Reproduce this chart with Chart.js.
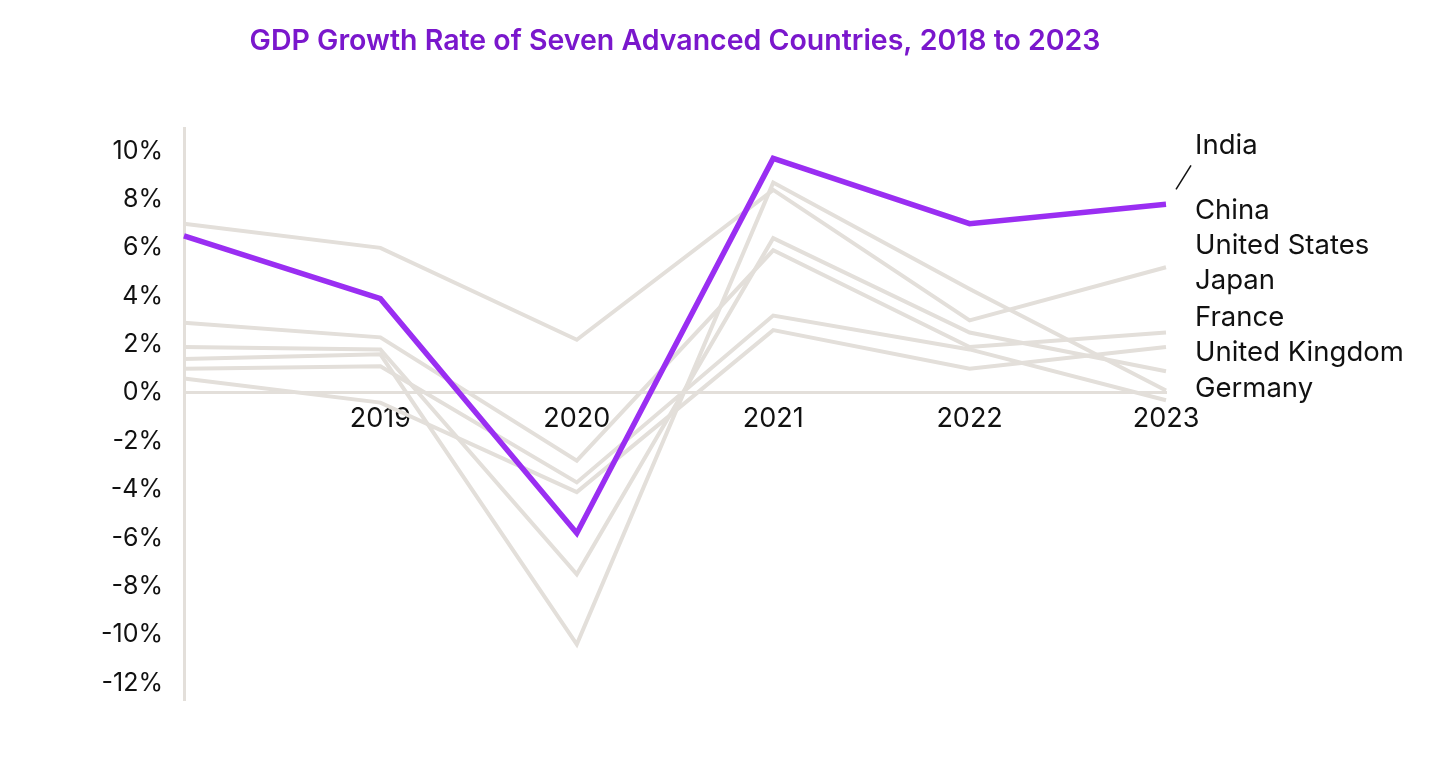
<!DOCTYPE html>
<html>
<head>
<meta charset="utf-8">
<title>GDP Growth Rate</title>
<script src="https://cdn.jsdelivr.net/npm/chart.js@4"></script>
<style>
	html, body { margin: 0; padding: 0; background: #fff; }
	#wrap { width: 1456px; height: 771px; }
</style>
</head>
<body>
<div id="wrap"><canvas id="lineChart" width="1456" height="771"></canvas></div>
<script>
// dados
var years = ['2018', '2019', '2020', '2021', '2022', '2023']
var india = [6.5, 3.9, -5.8, 9.7, 7.0, 7.8]
var china = [7.0, 6.0, 2.2, 8.4, 3.0, 5.2]
var unitedStates = [2.9, 2.3, -2.8, 5.9, 1.9, 2.5]
var japan = [0.6, -0.4, -4.1, 2.6, 1.0, 1.9]
var france = [1.9, 1.8, -7.5, 6.4, 2.5, 0.9]
var unitedKingdom = [1.4, 1.6, -10.4, 8.7, 4.3, 0.1]
var germany = [1.0, 1.1, -3.7, 3.2, 1.8, -0.3]
var yTicks = [10, 8, 6, 4, 2, 0, -2, -4, -6, -8, -10, -12]
var countryNames = ['India', 'China', 'United States', 'Japan', 'France', 'United Kingdom', 'Germany']

var purple = '#9a2ef2'
var grey = '#e3dfda'
var fontFamily = 'Inter, "Noto Sans", sans-serif'

// nomes dos países à direita
var rightLabels = {
	id: 'rightLabels',
	afterDatasetsDraw: function(chart) {
		var ctx = chart.ctx
		var area = chart.chartArea
		var x = area.right + 29
		var ys = [146, 211, 246, 281, 318, 353, 389]
		ctx.save()
		ctx.font = '27.5px ' + fontFamily
		ctx.fillStyle = '#111'
		ctx.textBaseline = 'middle'
		ctx.textAlign = 'left'
		for (var i = 0; i < countryNames.length; i++) {
			ctx.fillText(countryNames[i], x, ys[i])
		}
		// linha ligando India ao último ponto
		var pts = chart.getDatasetMeta(0).data
		var last = pts[pts.length - 1]
		ctx.strokeStyle = '#111'
		ctx.lineWidth = 1.5
		ctx.beginPath()
		ctx.moveTo(last.x + 10, last.y - 15)
		ctx.lineTo(last.x + 25, last.y - 39)
		ctx.stroke()
		ctx.restore()
	}
}

window.onload = function(e) {
	var ctx = document.getElementById('lineChart').getContext('2d')
	var grayLine = function(label, data) {
		return {
			label: label,
			data: data,
			borderColor: grey,
			borderWidth: 4,
			pointRadius: 0,
			tension: 0,
			borderJoinStyle: 'miter'
		}
	}
	var lineChart = new Chart(ctx, {
		type: 'line',
		data: {
			labels: years,
			datasets: [{
				label: 'India',
				data: india,
				borderColor: purple,
				borderWidth: 5.5,
				pointRadius: 0,
				tension: 0,
				borderJoinStyle: 'miter'
			},
			grayLine('China', china),
			grayLine('United States', unitedStates),
			grayLine('Japan', japan),
			grayLine('France', france),
			grayLine('United Kingdom', unitedKingdom),
			grayLine('Germany', germany)]
		},
		options: {
			responsive: false,
			animation: false,
			layout: {
				padding: { left: 100, right: 290, top: 0, bottom: 71 }
			},
			scales: {
				x: {
					position: { y: 0 },
					offset: false,
					grid: { display: false, drawTicks: false },
					border: { color: grey, width: 3 },
					ticks: {
						color: '#111',
						padding: 10,
						maxRotation: 0,
						autoSkip: false,
						font: { family: fontFamily, size: 27 },
						callback: function(v, i) { return i == 0 ? '' : years[i] }
					}
				},
				y: {
					min: -12.7,
					max: 10.95,
					grid: { display: false, drawTicks: false },
					border: { color: grey, width: 3 },
					afterBuildTicks: function(scale) {
						scale.ticks = yTicks.map(function(v) { return { value: v } })
					},
					afterFit: function(scale) { scale.width = 84 },
					ticks: {
						color: '#111',
						padding: 21,
						font: { family: fontFamily, size: 25 },
						callback: function(v) { return v + '%' }
					}
				}
			},
			plugins: {
				legend: { display: false },
				tooltip: { enabled: false },
				title: {
					display: true,
					fullSize: false,
					text: 'GDP Growth Rate of Seven Advanced Countries, 2018 to 2023',
					color: '#7a17cc',
					font: { family: fontFamily, size: 28.5, weight: '600' },
					padding: { top: 24, bottom: 70 }
				}
			}
		},
		plugins: [rightLabels]
	})
}
</script>
</body>
</html>
